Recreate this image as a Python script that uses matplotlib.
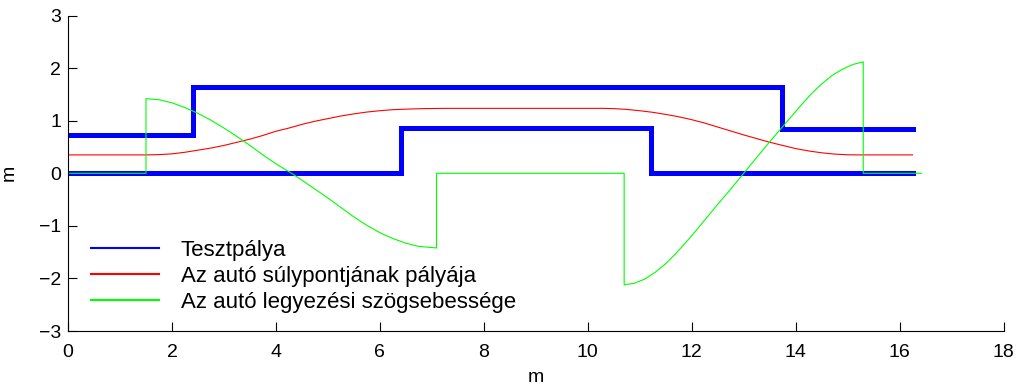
import matplotlib.pyplot as plt
from matplotlib.lines import Line2D

plt.rcParams['font.family'] = ['Liberation Sans', 'DejaVu Sans']

# test track boundaries (step profiles)
track_low_x = [0.0, 6.40, 6.40, 11.22, 11.22, 16.25]
track_low_y = [0.0, 0.0, 0.87, 0.87, 0.0, 0.0]
track_high_x = [0.0, 2.40, 2.40, 13.73, 13.73, 16.25]
track_high_y = [0.72, 0.72, 1.65, 1.65, 0.84, 0.84]

# path of the car's centre of mass
cog_x = [0.0, 1.5, 1.75, 2.0, 2.25, 2.5, 2.75, 3.0, 3.25, 3.5, 3.75, 4.0, 4.25, 4.5,
         4.75, 5.0, 5.25, 5.5, 5.75, 6.0, 6.25, 6.5, 6.75, 7.0, 7.3,
         10.3, 10.5, 10.75, 11.0, 11.25, 11.5, 11.75, 12.0, 12.25, 12.5, 12.75, 13.0,
         13.25, 13.5, 13.75, 14.0, 14.25, 14.5, 14.75, 15.0, 15.2, 16.25]
cog_y = [0.35, 0.35, 0.355, 0.37, 0.40, 0.44, 0.48, 0.53, 0.59, 0.65, 0.72, 0.80, 0.86, 0.93,
         0.99, 1.04, 1.09, 1.13, 1.165, 1.19, 1.21, 1.22, 1.228, 1.232, 1.235,
         1.235, 1.23, 1.215, 1.19, 1.16, 1.12, 1.075, 1.02, 0.955, 0.88, 0.805, 0.73,
         0.66, 0.59, 0.53, 0.47, 0.425, 0.39, 0.365, 0.352, 0.35, 0.35]

# yaw rate of the car
yaw_x = [0.0, 1.50, 1.50, 1.75, 2.00, 2.25, 2.50, 2.75, 3.00, 3.25, 3.50, 3.75, 4.00,
         4.30, 4.50, 4.75, 5.00, 5.25, 5.50, 5.75, 6.00, 6.25, 6.50, 6.75, 7.09, 7.09,
         10.70, 10.70, 10.90, 11.10, 11.30, 11.50, 11.70, 11.90, 12.10, 12.30, 12.50,
         12.70, 12.90, 13.10, 13.30, 13.50, 13.70, 13.90, 14.10, 14.30, 14.50, 14.70,
         14.90, 15.10, 15.30, 15.30, 16.42]
yaw_y = [0.0, 0.0, 1.42, 1.40, 1.34, 1.25, 1.14, 1.01, 0.86, 0.70, 0.53, 0.35, 0.18,
         0.00, -0.13, -0.30, -0.47, -0.65, -0.83, -0.99, -1.13, -1.24, -1.33, -1.39, -1.42, 0.0,
         0.0, -2.12, -2.09, -2.01, -1.88, -1.72, -1.52, -1.30, -1.07, -0.83, -0.59,
         -0.36, -0.12, 0.12, 0.36, 0.60, 0.83, 1.06, 1.29, 1.51, 1.70, 1.86,
         1.98, 2.07, 2.12, 0.0, 0.0]

legend_labels = ['Tesztpálya', 'Az autó súlypontjának pályája',
                 'Az autó legyezési szögsebessége']

fig = plt.figure(figsize=(10.23, 3.89), dpi=100)
ax = fig.add_axes([0.0665, 0.149, 0.9145, 0.811])

ax.plot(track_low_x, track_low_y, color='#0000ff', lw=3.6, solid_joinstyle='miter')
ax.plot(track_high_x, track_high_y, color='#0000ff', lw=3.6, solid_joinstyle='miter')
ax.plot(cog_x, cog_y, color='#ff0000', lw=0.8)
ax.plot(yaw_x, yaw_y, color='#00ff00', lw=0.8)

ax.set_xlim(0, 18)
ax.set_ylim(-3, 3)
ax.set_xticks(range(0, 19, 2))
ax.set_yticks(range(-3, 4))
for side in ('top', 'right'):
    ax.spines[side].set_visible(False)
for side in ('left', 'bottom'):
    ax.spines[side].set_linewidth(0.8)
ax.tick_params(direction='in', length=6.5, width=0.8, labelsize=14)
ax.tick_params(axis='x', pad=9)
ax.tick_params(axis='y', pad=5)
ax.set_xlabel('m', fontsize=14, labelpad=6)
ax.set_ylabel('m', fontsize=14, labelpad=15)

handles = [Line2D([], [], color=c, lw=1.5) for c in ('#0000ff', '#ff0000', '#00ff00')]
ax.legend(handles, legend_labels, loc='lower left', bbox_to_anchor=(0.015, 0.03),
          frameon=False, fontsize=16, handlelength=3.05, handletextpad=1.0,
          labelspacing=0.22, borderaxespad=0)

fig.savefig('out.png', dpi=100)
